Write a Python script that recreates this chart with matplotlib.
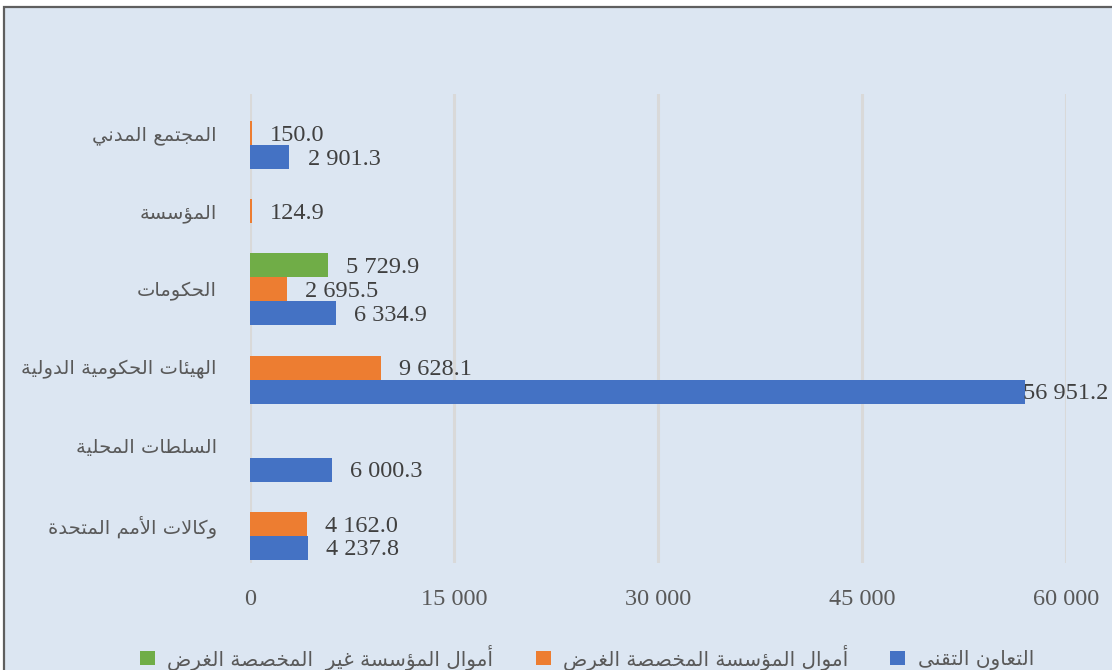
import matplotlib
matplotlib.use("Agg")
import matplotlib.pyplot as plt
from matplotlib.patches import Rectangle, Patch

# ---------------- data ----------------
categories = ["وكالات الأمم المتحدة", "السلطات المحلية", "الهيئات الحكومية الدولية",
              "الحكومات", "المؤسسة", "المجتمع المدني"]
series_names = ["التعاون التقنى", "أموال المؤسسة المخصصة الغرض",
                "أموال المؤسسة غير  المخصصة الغرض"]
tech_coop = [4237.8, 6000.3, 56951.2, 6334.9, 0.0, 2901.3]
earmarked = [4162.0, 0.0, 9628.1, 2695.5, 124.9, 150.0]
unearmarked = [0.0, 0.0, 0.0, 5729.9, 0.0, 0.0]
x_ticks = [0, 15000, 30000, 45000, 60000]
x_tick_labels = ["0", "15 000", "30 000", "45 000", "60 000"]

colors = ["#4472c4", "#ed7d31", "#70ad47"]

# ---------------- minimal Arabic shaping ----------------
_DUAL = {'\u0626': 0xFE89, '\u0628': 0xFE8F, '\u062A': 0xFE95, '\u062B': 0xFE99,
         '\u062C': 0xFE9D, '\u062D': 0xFEA1, '\u062E': 0xFEA5, '\u0633': 0xFEB1,
         '\u0634': 0xFEB5, '\u0635': 0xFEB9, '\u0636': 0xFEBD, '\u0637': 0xFEC1,
         '\u0638': 0xFEC5, '\u0639': 0xFEC9, '\u063A': 0xFECD, '\u0641': 0xFED1,
         '\u0642': 0xFED5, '\u0643': 0xFED9, '\u0644': 0xFEDD, '\u0645': 0xFEE1,
         '\u0646': 0xFEE5, '\u0647': 0xFEE9, '\u064A': 0xFEF1}
_RIGHT = {'\u0622': 0xFE81, '\u0623': 0xFE83, '\u0624': 0xFE85, '\u0625': 0xFE87,
          '\u0627': 0xFE8D, '\u0629': 0xFE93, '\u062F': 0xFEA9, '\u0630': 0xFEAB,
          '\u0631': 0xFEAD, '\u0632': 0xFEAF, '\u0648': 0xFEED, '\u0649': 0xFEEF}
_LAMALEF = {'\u0622': 0xFEF5, '\u0623': 0xFEF7, '\u0625': 0xFEF9, '\u0627': 0xFEFB}


def shape_ar(s):
    out = []
    prev_joins = False
    i = 0
    n = len(s)
    while i < n:
        c = s[i]
        if c == '\u0644' and i + 1 < n and s[i + 1] in _LAMALEF:
            base = _LAMALEF[s[i + 1]]
            out.append(chr(base + 1 if prev_joins else base))
            prev_joins = False
            i += 2
            continue
        if c in _DUAL or c in _RIGHT:
            nxt = s[i + 1] if i + 1 < n else None
            cn = c in _DUAL and nxt is not None and (nxt in _DUAL or nxt in _RIGHT)
            cp = prev_joins
            if c in _DUAL:
                base = _DUAL[c]
                idx = (3 if cn else 1) if cp else (2 if cn else 0)
            else:
                base = _RIGHT[c]
                idx = 1 if cp else 0
            out.append(chr(base + idx))
            prev_joins = cn
        else:
            out.append(c)
            prev_joins = False
        i += 1
    return ''.join(reversed(out))


# ---------------- figure ----------------
W, H = 1112, 670
fig = plt.figure(figsize=(W / 100, H / 100), dpi=100)
fig.patch.set_facecolor("white")
fig.add_artist(Rectangle((4 / W, -0.2), 1.5, 1 - 7 / H + 0.2, transform=fig.transFigure,
                         facecolor="#dce6f2", edgecolor="#5f5f5f", linewidth=1.6, zorder=0))

ax = fig.add_axes([250 / W, 1 - 563 / H, (1066 - 250) / W, (563 - 94) / H])
ax.patch.set_visible(False)

y = list(range(len(categories)))
h = 0.307
series = [tech_coop, earmarked, unearmarked]
offsets = [-h, 0.0, h]
for vals, off, col in zip(series, offsets, colors):
    ax.barh([yy + off for yy in y], vals, height=h, color=col, zorder=2)

ax.set_xlim(0, 60000)
ax.set_ylim(-0.5, len(categories) - 0.5)
ax.set_xticks(x_ticks)
ax.set_xticklabels(x_tick_labels)
ax.set_yticks(y)
ax.set_yticklabels([shape_ar(c) for c in categories])
for s in ax.spines.values():
    s.set_visible(False)
ax.grid(axis="x", color="#d9d9d9", linewidth=2.2, zorder=1)
ax.set_axisbelow(True)
ax.tick_params(axis="x", length=0, pad=19, labelsize=17.5, labelcolor="#595959")
ax.tick_params(axis="y", length=0, pad=24, labelsize=14, labelcolor="#595959")
for t in ax.get_xticklabels():
    t.set_fontfamily("Liberation Serif")
for t in ax.get_yticklabels():
    t.set_fontfamily("DejaVu Sans")

# data labels
xmax = ax.get_xlim()[1]
for vals, off in zip(series, offsets):
    for yy, v in zip(y, vals):
        if v <= 0:
            continue
        txt = f"{v:,.1f}".replace(",", " ")
        dx = 13 if v < 0.9 * xmax else -0.8
        ax.annotate(txt, xy=(v, yy + off), xytext=(dx, -1.5), textcoords="offset points",
                    ha="left", va="center", fontsize=17.5, family="Liberation Serif",
                    color="#404040", zorder=3, annotation_clip=False)

# legend (RTL order: first series on the right)
handles = [Patch(facecolor=colors[k]) for k in (2, 1, 0)]
labels = [shape_ar(series_names[k]) for k in (2, 1, 0)]
leg = fig.legend(handles, labels, loc="center", bbox_to_anchor=(587 / W, 1 - 657 / H),
                 ncol=3, frameon=False, handlelength=0.75, handleheight=0.75,
                 handletextpad=0.6, columnspacing=2.1,
                 prop={"family": "DejaVu Sans", "size": 14.5})
for t in leg.get_texts():
    t.set_color("#595959")

fig.savefig("out.png", dpi=100)
